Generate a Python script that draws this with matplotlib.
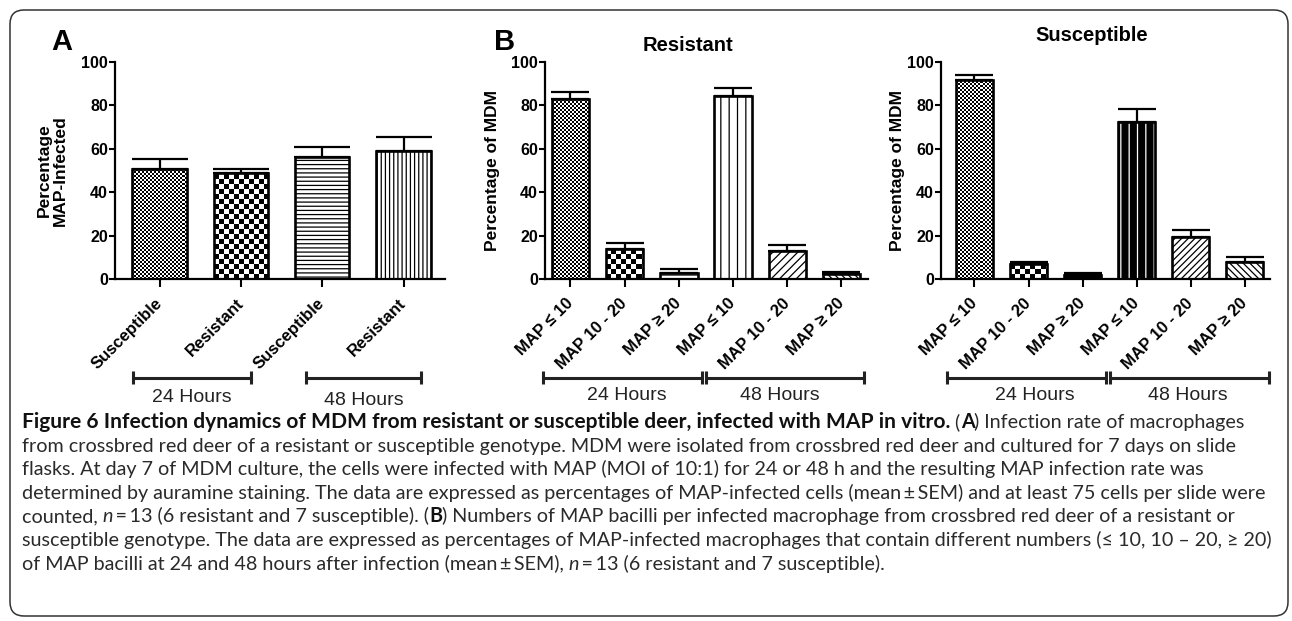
import numpy as np
import matplotlib
matplotlib.use("Agg")
import matplotlib.pyplot as plt
from matplotlib.patches import FancyBboxPatch
from matplotlib import transforms

# ---- data ----
a_labels = ["Susceptible", "Resistant", "Susceptible", "Resistant"]
a_mean = [50.5, 48.7, 56.1, 59.0]
a_sem = [4.7, 2.0, 4.7, 6.3]

b_labels = ["MAP \u2264 10", "MAP 10 - 20", "MAP \u2265 20",
            "MAP \u2264 10", "MAP 10 - 20", "MAP \u2265 20"]
res_mean = [82.8, 13.8, 2.8, 84.3, 12.9, 2.3]
res_sem = [3.2, 2.6, 1.8, 3.9, 2.8, 0.9]
sus_mean = [91.7, 6.8, 1.7, 72.5, 19.2, 8.0]
sus_sem = [2.2, 1.2, 1.2, 5.7, 3.4, 2.3]

hour_labels = ["24 Hours", "48 Hours"]

caption = [
    [("Figure 6 Infection dynamics of MDM from resistant or susceptible deer, infected with MAP in vitro.", "b"),
     (" (", "r"), ("A", "b"), (") Infection rate of macrophages", "r")],
    [("from crossbred red deer of a resistant or susceptible genotype. MDM were isolated from crossbred red deer and cultured for 7 days on slide", "r")],
    [("flasks. At day 7 of MDM culture, the cells were infected with MAP (MOI of 10:1) for 24 or 48 h and the resulting MAP infection rate was", "r")],
    [("determined by auramine staining. The data are expressed as percentages of MAP-infected cells (mean\u2009\u00b1\u2009SEM) and at least 75 cells per slide were", "r")],
    [("counted, ", "r"), ("n", "i"), ("\u2009=\u200913 (6 resistant and 7 susceptible). (", "r"), ("B", "b"),
     (") Numbers of MAP bacilli per infected macrophage from crossbred red deer of a resistant or", "r")],
    [("susceptible genotype. The data are expressed as percentages of MAP-infected macrophages that contain different numbers (\u2264 10, 10 \u2013 20, \u2265 20)", "r")],
    [("of MAP bacilli at 24 and 48 hours after infection (mean\u2009\u00b1\u2009SEM), ", "r"), ("n", "i"),
     ("\u2009=\u200913 (6 resistant and 7 susceptible).", "r")],
]

W, H = 1292, 621
ARIAL = ["Liberation Sans", "DejaVu Sans"]
CAPFONT = ["Lato", "DejaVu Sans"]
plt.rcParams["font.family"] = ARIAL
plt.rcParams["hatch.linewidth"] = 0.9

fig = plt.figure(figsize=(W / 100, H / 100), dpi=100, facecolor="white")

# rounded frame around the whole figure
frame = FancyBboxPatch((0.10, 0.05), 12.78, 6.06, boxstyle="round,pad=0,rounding_size=0.14",
                       transform=fig.dpi_scale_trans, fill=False, edgecolor="#333333", linewidth=1.1)
fig.patches.append(frame)


def px_axes(left, right, top=62, bottom=279):
    return fig.add_axes([left / W, 1 - bottom / H, (right - left) / W, (bottom - top) / H])


def texture(ax, bar, cell):
    """fill a bar with a checkerboard, clipped to the bar"""
    x0, y0 = bar.get_x(), bar.get_y()
    w, h = bar.get_width(), bar.get_height()
    p0 = ax.transData.transform((x0, y0))
    p1 = ax.transData.transform((x0 + w, y0 + h))
    nx = int(abs(p1[0] - p0[0]) / cell) + 2
    ny = int(abs(p1[1] - p0[1]) / cell) + 2
    ux = w / abs(p1[0] - p0[0])
    uy = h / abs(p1[1] - p0[1]) if h else 1
    arr = np.add.outer(np.arange(ny), np.arange(nx)) % 2
    im = ax.imshow(arr, cmap="gray", vmin=0, vmax=1, interpolation="nearest", aspect="auto",
                   extent=(x0, x0 + nx * cell * ux, y0, y0 + ny * cell * uy), origin="lower", zorder=2.5)
    im.set_clip_path(bar)


def bar_panel(ax, labels, means, sems, styles, xlim, capsize):
    x = np.arange(len(means))
    ax.set_xlim(*xlim)
    ax.set_ylim(0, 100)
    width = 0.69 if len(means) == 6 else 0.67
    ax.errorbar(x, means, yerr=[np.zeros(len(sems)), sems], fmt="none", ecolor="black",
                elinewidth=1.6, capsize=capsize, capthick=1.6, zorder=1)
    base = ax.bar(x, means, width, color="white", linewidth=0, zorder=2)
    for b, st in zip(base, styles):
        if st[0] == "check":
            b.set_facecolor("white")
        else:
            b.set_facecolor(st[1])
            b.set_edgecolor(st[2])
            b.set_hatch(st[0])
    for b, st in zip(base, styles):
        if st[0] == "check":
            texture(ax, b, st[1])
    ax.bar(x, means, width, fill=False, edgecolor="black", linewidth=1.9, zorder=3)
    ax.set_xlim(*xlim)
    ax.set_ylim(0, 100)
    ax.set_yticks([0, 20, 40, 60, 80, 100])
    ax.set_xticks(x)
    ax.set_xticklabels(labels, rotation=45, ha="right", va="center", rotation_mode="anchor",
                       fontsize=12, fontweight="bold")
    for s in ["top", "right"]:
        ax.spines[s].set_visible(False)
    for s in ["left", "bottom"]:
        ax.spines[s].set_linewidth(1.6)
    ax.tick_params(axis="x", length=6, width=1.5, pad=10)
    ax.tick_params(axis="y", length=4, width=1.5, pad=1, labelsize=11.5)
    for t in ax.get_yticklabels():
        t.set_fontweight("bold")


def brackets(ax, spans, label_x, label_y, y=-0.456):
    tr = transforms.blended_transform_factory(ax.transData, ax.transAxes)
    for (x0, x1), lx, ly, txt in zip(spans, label_x, label_y, hour_labels):
        ax.plot([x0, x1], [y, y], color="#222222", lw=2.2, transform=tr, clip_on=False,
                solid_capstyle="butt")
        for xe in (x0, x1):
            ax.plot([xe, xe], [y - 0.03, y + 0.03], color="#222222", lw=2.2, transform=tr,
                    clip_on=False, solid_capstyle="butt")
        ax.text(lx, ly, txt, transform=tr, ha="center", va="center", fontsize=14, color="#222222")


# ---- panel A ----
axA = px_axes(115, 445)
styles_a = [("check", 2), ("check", 5), ("----", "white", "black"), ("||||", "white", "black")]
bar_panel(axA, a_labels, a_mean, a_sem, styles_a, (-0.55, 3.51), 20)
axA.text(-0.19, 0.5, "Percentage\nMAP-Infected", transform=axA.transAxes, rotation=90,
         ha="center", va="center", fontsize=12.5, fontweight="bold", linespacing=1.05)
brackets(axA, [(-0.33, 1.12), (1.80, 3.22)], [0.40, 2.51], [-0.548, -0.562])

# ---- panel B resistant ----
axR = px_axes(545, 868)
styles_r = [("check", 2), ("check", 5), ("---", "white", "black"), ("||", "white", "black"),
            ("////", "white", "black"), ("\\\\\\\\\\", "white", "black")]
bar_panel(axR, b_labels, res_mean, res_sem, styles_r, (-0.47, 5.49), 14)
axR.text(-0.161, 0.5, "Percentage of MDM", transform=axR.transAxes, rotation=90,
         ha="center", va="center", fontsize=12.5, fontweight="bold")
axR.text(0.443, 1.078, "Resistant", transform=axR.transAxes, ha="center", va="center",
         fontsize=14.5, fontweight="bold")
brackets(axR, [(-0.5, 2.43), (2.50, 5.42)], [1.04, 3.87], [-0.535, -0.535])

# ---- panel B susceptible ----
axS = px_axes(941, 1270)
styles_s = [("check", 2), ("check", 5), ("", "black", "black"), ("||", "black", "white"),
            ("/////", "white", "black"), ("\\\\\\\\\\", "white", "black")]
bar_panel(axS, b_labels, sus_mean, sus_sem, styles_s, (-0.62, 5.47), 14)
axS.text(-0.131, 0.5, "Percentage of MDM", transform=axS.transAxes, rotation=90,
         ha="center", va="center", fontsize=12.5, fontweight="bold")
axS.text(0.459, 1.124, "Susceptible", transform=axS.transAxes, ha="center", va="center",
         fontsize=14.5, fontweight="bold")
brackets(axS, [(-0.51, 2.44), (2.51, 5.45)], [1.12, 3.95], [-0.535, -0.535])

fig.text(62 / W, 1 - 42 / H, "A", ha="center", va="center", fontsize=21, fontweight="bold")
fig.text(505 / W, 1 - 42 / H, "B", ha="center", va="center", fontsize=21, fontweight="bold")

# ---- caption ----
renderer = fig.canvas.get_renderer()
props = {"r": dict(fontweight="normal", color="#2a2a2a"),
         "b": dict(fontweight="bold", color="#111111"),
         "i": dict(fontweight="normal", style="italic", color="#2a2a2a")}


def seg_width(s, kind, fs):
    t = fig.text(0, 0, s + "|", family=CAPFONT, fontsize=fs, **props[kind])
    t2 = fig.text(0, 0, "|", family=CAPFONT, fontsize=fs, **props[kind])
    w = t.get_window_extent(renderer).width - t2.get_window_extent(renderer).width
    t.remove()
    t2.remove()
    return w


# regular size fitted to the widest line, bold title fitted to its own span
cap_fs = 10 * 1242 / sum(seg_width(s, k, 10) for s, k in caption[3])
bold_fs = 10 * 930 / seg_width(caption[0][0][0], "b", 10)

for i, line in enumerate(caption):
    xpx = 22
    ypx = 428 + i * 23.6
    for j, (s, k) in enumerate(line):
        fs = bold_fs if (i == 0 and j == 0) else cap_fs
        fig.text(xpx / W, 1 - ypx / H, s, family=CAPFONT, fontsize=fs, va="baseline",
                 ha="left", **props[k])
        xpx += seg_width(s, k, fs)

fig.savefig("out.png", dpi=100, facecolor="white")
